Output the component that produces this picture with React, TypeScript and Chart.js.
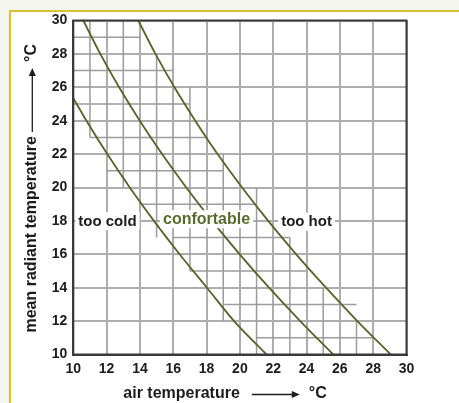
import { useEffect, useRef } from 'react';
import { Chart, registerables } from 'chart.js';

Chart.register(...registerables);

// ---- data ----
const xTickValues = [10, 12, 14, 16, 18, 20, 22, 24, 26, 28, 30];
const yTickValues = [10, 12, 14, 16, 18, 20, 22, 24, 26, 28, 30];

// comfort boundary curves (air temperature x, mean radiant temperature y)
const coldLineX = [10, 10.79, 12.04, 13.39, 14.84, 16.38, 18.02, 19.65, 21.6];
const coldLineY = [25.35, 24, 22, 20, 18, 16, 14, 12, 10];

const optimumLineX = [10.6, 11.62, 12.75, 13.99, 15.33, 16.78, 18.33, 19.99, 21.75, 23.62, 25.6];
const optimumLineY = [30, 28, 26, 24, 22, 20, 18, 16, 14, 12, 10];

const hotLineX = [13.9, 14.93, 16.07, 17.32, 18.66, 20.13, 21.7, 23.38, 25.17, 27.05, 29.05];
const hotLineY = [30, 28, 26, 24, 22, 20, 18, 16, 14, 12, 10];

// fine (1 °C) grid inside the comfort band
const fineHorizY = [29, 27, 25, 23, 21, 19, 17, 15, 13, 11];
const fineHorizFrom = [10, 10, 10, 11, 12, 14, 16, 17, 19, 21];
const fineHorizTo = [14, 16, 17, 18, 19, 21, 23, 24, 27, 28];
const fineVertX = [11, 13, 15, 17, 19, 21, 23, 25, 27];
const fineVertFrom = [23, 20, 17, 15, 12, 10, 10, 10, 10];
const fineVertTo = [30, 30, 28, 26, 22, 20, 17, 14, 12];

// zone labels
const zoneLabels = ['too cold', 'confortable', 'too hot'];
const zoneLabelX = [12.05, 18.0, 24.0];
const zoneLabelY = [18.0, 18.1, 17.95];

const xTitle = 'air temperature';
const yTitle = 'mean radiant temperature';
const unitLabel = '°C';

const FONT = "'Liberation Sans', Arial, Helvetica, sans-serif";
const OLIVE = '#55642a';

function toPts(xs: number[], ys: number[]) {
  return xs.map((x, i) => ({ x, y: ys[i] }));
}

const bgPlugin = {
  id: 'bg',
  beforeDraw(chart: any) {
    const { ctx, width, height } = chart;
    ctx.save();
    ctx.fillStyle = '#f6f6f0';
    ctx.fillRect(0, 0, width, height);
    ctx.fillStyle = '#ffffff';
    ctx.fillRect(10, 11, width - 10, height - 11);
    ctx.strokeStyle = '#d7c330';
    ctx.lineWidth = 2.2;
    ctx.beginPath();
    ctx.moveTo(9, 11);
    ctx.lineTo(width, 11);
    ctx.moveTo(10, 11);
    ctx.lineTo(10, height);
    ctx.stroke();
    ctx.restore();
  },
};

const fineGridPlugin = {
  id: 'fineGrid',
  beforeDatasetsDraw(chart: any) {
    const { ctx } = chart;
    const xs = chart.scales.x;
    const ys = chart.scales.y;
    ctx.save();
    ctx.strokeStyle = '#9c9c9c';
    ctx.lineWidth = 1.5;
    ctx.beginPath();
    fineHorizY.forEach((y, i) => {
      const py = ys.getPixelForValue(y);
      ctx.moveTo(xs.getPixelForValue(fineHorizFrom[i]), py);
      ctx.lineTo(xs.getPixelForValue(fineHorizTo[i]), py);
    });
    fineVertX.forEach((x, i) => {
      const px = xs.getPixelForValue(x);
      ctx.moveTo(px, ys.getPixelForValue(fineVertFrom[i]));
      ctx.lineTo(px, ys.getPixelForValue(fineVertTo[i]));
    });
    ctx.stroke();
    ctx.restore();
  },
};

const frameAndLabelsPlugin = {
  id: 'frameLabels',
  afterDatasetsDraw(chart: any) {
    const { ctx, chartArea } = chart;
    const xs = chart.scales.x;
    const ys = chart.scales.y;
    ctx.save();
    zoneLabels.forEach((t, i) => {
      const isComfort = i === 1;
      ctx.font = `bold ${isComfort ? 16 : 15}px ${FONT}`;
      const w = ctx.measureText(t).width;
      const px = xs.getPixelForValue(zoneLabelX[i]);
      const py = ys.getPixelForValue(zoneLabelY[i]);
      ctx.fillStyle = '#ffffff';
      ctx.fillRect(px - w / 2 - 3, py - 9, w + 6, 18);
      ctx.fillStyle = isComfort ? '#5a6a2b' : '#1c1c1c';
      ctx.textAlign = 'center';
      ctx.textBaseline = 'middle';
      ctx.fillText(t, px, py + 0.5);
    });
    ctx.strokeStyle = '#3a3a3a';
    ctx.lineWidth = 2;
    ctx.strokeRect(chartArea.left, chartArea.top, chartArea.right - chartArea.left, chartArea.bottom - chartArea.top);
    ctx.restore();
  },
  afterDraw(chart: any) {
    const { ctx, chartArea } = chart;
    ctx.save();
    ctx.fillStyle = '#1c1c1c';
    ctx.strokeStyle = '#1c1c1c';
    ctx.font = `bold 16px ${FONT}`;
    ctx.textBaseline = 'middle';
    ctx.textAlign = 'left';
    // x title
    const ty = chartArea.bottom + 39;
    const x0 = chartArea.left + 50;
    ctx.fillText(xTitle, x0, ty);
    const w = ctx.measureText(xTitle).width;
    const a0 = x0 + w + 12;
    const a1 = a0 + 48;
    ctx.lineWidth = 1.3;
    ctx.beginPath();
    ctx.moveTo(a0, ty + 1);
    ctx.lineTo(a1 - 6, ty + 1);
    ctx.stroke();
    ctx.beginPath();
    ctx.moveTo(a1, ty + 1);
    ctx.lineTo(a1 - 8, ty - 2.5);
    ctx.lineTo(a1 - 8, ty + 4.5);
    ctx.closePath();
    ctx.fill();
    ctx.fillText(unitLabel, a1 + 9, ty);

    // y title (rotated)
    const tx = chartArea.left - 42;
    ctx.translate(tx, 0);
    ctx.rotate(-Math.PI / 2);
    ctx.textAlign = 'right';
    ctx.fillText(yTitle, -136, 0);
    ctx.lineWidth = 1.3;
    ctx.beginPath();
    ctx.moveTo(-132, 1);
    ctx.lineTo(-74, 1);
    ctx.stroke();
    ctx.beginPath();
    ctx.moveTo(-68, 1);
    ctx.lineTo(-76, -2.5);
    ctx.lineTo(-76, 4.5);
    ctx.closePath();
    ctx.fill();
    ctx.textAlign = 'left';
    ctx.fillText(unitLabel, -62, 0);
    ctx.restore();
  },
};

export default function App() {
  const ref = useRef<HTMLCanvasElement | null>(null);

  useEffect(() => {
    if (!ref.current) return;
    const tickFont = { family: FONT, size: 14, weight: 'bold' as const };
    const lineDs = (xs: number[], ys: number[]) => ({
      data: toPts(xs, ys),
      showLine: true,
      borderColor: OLIVE,
      borderWidth: 1.8,
      pointRadius: 0,
      cubicInterpolationMode: 'monotone' as const,
      fill: false,
    });
    const chart = new Chart(ref.current, {
      type: 'scatter',
      data: {
        datasets: [
          lineDs(coldLineX, coldLineY),
          lineDs(optimumLineX, optimumLineY),
          lineDs(hotLineX, hotLineY),
        ],
      },
      options: {
        animation: false,
        responsive: false,
        maintainAspectRatio: false,
        layout: { padding: { left: 0, right: 52.5, top: 20.5, bottom: 0 } },
        plugins: { legend: { display: false }, tooltip: { enabled: false } },
        scales: {
          x: {
            type: 'linear',
            min: 10,
            max: 30,
            afterFit: (s: any) => {
              s.height = 48.5;
            },
            afterBuildTicks: (s: any) => {
              s.ticks = xTickValues.map((v) => ({ value: v }));
            },
            ticks: { font: tickFont, color: '#1c1c1c', padding: 6, maxRotation: 0 },
            grid: { color: '#adadad', lineWidth: 2, drawTicks: false },
            border: { color: '#3a3a3a', width: 2 },
          },
          y: {
            type: 'linear',
            min: 10,
            max: 30,
            afterFit: (s: any) => {
              s.width = 73.3;
            },
            afterBuildTicks: (s: any) => {
              s.ticks = yTickValues.map((v) => ({ value: v }));
            },
            ticks: { font: tickFont, color: '#1c1c1c', padding: 6 },
            grid: { color: '#adadad', lineWidth: 2, drawTicks: false },
            border: { color: '#3a3a3a', width: 2 },
          },
        },
      },
      plugins: [bgPlugin, fineGridPlugin, frameAndLabelsPlugin],
    });
    return () => chart.destroy();
  }, []);

  return (
    <div style={{ position: 'fixed', left: 0, top: 0, width: 459, height: 403 }}>
      <canvas ref={ref} width={459} height={403} style={{ display: 'block', width: 459, height: 403 }} />
    </div>
  );
}
